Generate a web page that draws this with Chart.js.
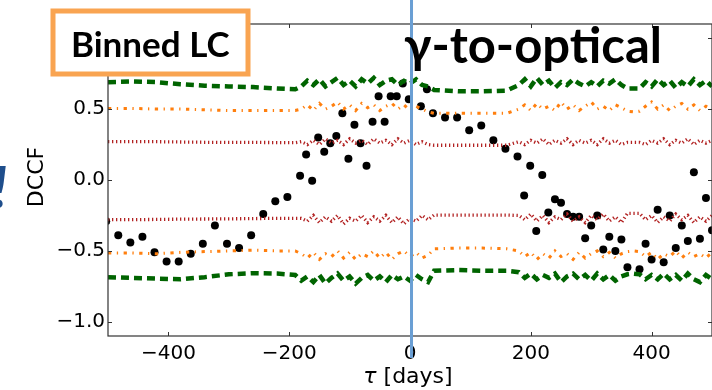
<!DOCTYPE html>
<html>
<head>
<meta charset="utf-8">
<style>
  html, body { margin: 0; padding: 0; background: #fff; }
  #wrap { position: relative; width: 712px; height: 390px; overflow: hidden; }
</style>
<script src="https://cdn.jsdelivr.net/npm/chart.js@4.4.1/dist/chart.umd.min.js"></script>
</head>
<body>
<div id="wrap"><canvas id="dccfChart" width="712" height="390"></canvas></div>
<script>
// ======== Data ========
const xTicks = [-400, -200, 0, 200, 400];
const yTicks = [-1.0, -0.5, 0.0, 0.5, 1.0];

// binned DCCF points (tau in days, DCCF value)
const dccfTau = [
  -503, -483, -463, -443, -423, -403, -383, -363, -343, -323, -303, -283, -263, -243, -223, -203,
  -182, -172, -162, -152, -142, -132, -122, -112, -102, -92, -82, -72, -62, -52, -42, -32, -22, -12, -2,
  18, 28, 38, 58, 78, 98, 118, 138, 158, 178,
  189, 199, 209, 219, 229, 240, 250, 260, 270, 280, 290, 300, 310, 320, 330, 340, 350, 360,
  380, 390, 400, 410, 420, 430, 440, 450, 460, 470, 480, 490, 500
];
const dccfVal = [
  -0.29, -0.39, -0.44, -0.40, -0.51, -0.575, -0.575, -0.52, -0.45, -0.32, -0.45, -0.48, -0.39, -0.24, -0.15, -0.12,
  0.03, 0.18, -0.005, 0.30, 0.20, 0.26, 0.31, 0.47, 0.15, 0.39, 0.26, 0.10, 0.41, 0.59, 0.41, 0.59, 0.59, 0.68, 0.57,
  0.52, 0.64, 0.47, 0.44, 0.44, 0.35, 0.385, 0.28, 0.22, 0.165,
  -0.11, 0.10, -0.36, 0.035, -0.23, -0.135, -0.16, -0.24, -0.26, -0.26, -0.41, -0.32, -0.25, -0.49, -0.40, -0.50, -0.42, -0.615,
  -0.63, -0.45, -0.56, -0.21, -0.58, -0.25, -0.48, -0.32, -0.43, 0.054, -0.415, -0.127, -0.354
];

// significance levels, all on one tau grid
const sigTau = [
  -500, -460, -420, -380, -340, -300, -260, -220, -190,
  -180, -170, -160, -150, -140, -130, -120, -110, -100, -90, -80, -70, -60, -50, -40, -30, -20, -10, 0, 10, 20, 30,
  40, 80, 120, 160,
  180, 190, 200, 210, 220, 230, 240, 250, 260, 270, 280, 290, 300, 310, 320, 330, 340, 350, 360, 370, 380,
  390, 400, 410, 420, 430, 440, 450, 460, 470, 480, 490, 500
];
const sig99Up = [
  0.69, 0.695, 0.69, 0.675, 0.665, 0.66, 0.655, 0.645, 0.64,
  0.66, 0.70, 0.67, 0.71, 0.66, 0.69, 0.72, 0.67, 0.70, 0.66, 0.71, 0.68, 0.72, 0.67, 0.70, 0.71, 0.67, 0.70, 0.68, 0.71, 0.67, 0.66,
  0.635, 0.625, 0.625, 0.63,
  0.67, 0.71, 0.66, 0.72, 0.67, 0.70, 0.65, 0.69, 0.67, 0.71, 0.68, 0.66, 0.69, 0.66, 0.70, 0.68, 0.71, 0.67, 0.645, 0.645, 0.645,
  0.69, 0.66, 0.71, 0.67, 0.70, 0.65, 0.69, 0.66, 0.71, 0.67, 0.70, 0.66
];
const sig99Low = [
  -0.685, -0.69, -0.695, -0.70, -0.685, -0.665, -0.657, -0.66, -0.67,
  -0.71, -0.68, -0.72, -0.67, -0.73, -0.69, -0.66, -0.71, -0.68, -0.73, -0.69, -0.67, -0.71, -0.68, -0.72, -0.67, -0.70, -0.68, -0.71, -0.67, -0.70, -0.72,
  -0.64, -0.635, -0.64, -0.64,
  -0.65, -0.69, -0.66, -0.70, -0.67, -0.69, -0.66, -0.72, -0.68, -0.66, -0.70, -0.67, -0.71, -0.66, -0.70, -0.67, -0.71, -0.68, -0.665, -0.66, -0.665,
  -0.70, -0.67, -0.70, -0.66, -0.70, -0.67, -0.71, -0.66, -0.70, -0.72, -0.67, -0.70
];
const sig95Up = [
  0.505, 0.505, 0.50, 0.50, 0.495, 0.49, 0.49, 0.49, 0.49,
  0.50, 0.53, 0.49, 0.54, 0.50, 0.52, 0.55, 0.50, 0.53, 0.49, 0.54, 0.51, 0.53, 0.49, 0.52, 0.54, 0.50, 0.53, 0.49, 0.52, 0.50, 0.48,
  0.47, 0.47, 0.47, 0.47,
  0.50, 0.53, 0.49, 0.54, 0.50, 0.52, 0.49, 0.55, 0.50, 0.53, 0.49, 0.52, 0.55, 0.50, 0.52, 0.49, 0.53, 0.51, 0.485, 0.48, 0.485,
  0.52, 0.55, 0.50, 0.53, 0.49, 0.52, 0.54, 0.50, 0.53, 0.49, 0.52, 0.50
];
const sig95Low = [
  -0.515, -0.515, -0.52, -0.51, -0.505, -0.50, -0.495, -0.50, -0.50,
  -0.52, -0.55, -0.51, -0.56, -0.52, -0.54, -0.50, -0.55, -0.51, -0.56, -0.52, -0.54, -0.50, -0.55, -0.51, -0.56, -0.52, -0.50, -0.54, -0.51, -0.55, -0.53,
  -0.485, -0.48, -0.48, -0.485,
  -0.50, -0.54, -0.51, -0.56, -0.52, -0.55, -0.50, -0.54, -0.52, -0.56, -0.51, -0.55, -0.52, -0.50, -0.54, -0.51, -0.55, -0.52, -0.505, -0.50, -0.505,
  -0.54, -0.51, -0.56, -0.52, -0.54, -0.50, -0.55, -0.51, -0.54, -0.52, -0.55, -0.51
];
const sig68Up = [
  0.27, 0.27, 0.27, 0.268, 0.266, 0.265, 0.265, 0.264, 0.263,
  0.27, 0.25, 0.28, 0.25, 0.29, 0.26, 0.28, 0.25, 0.29, 0.26, 0.28, 0.25, 0.29, 0.26, 0.28, 0.25, 0.29, 0.26, 0.28, 0.25, 0.27, 0.25,
  0.245, 0.245, 0.245, 0.245,
  0.27, 0.25, 0.28, 0.26, 0.29, 0.25, 0.28, 0.26, 0.29, 0.25, 0.28, 0.26, 0.28, 0.25, 0.29, 0.26, 0.28, 0.25, 0.265, 0.265, 0.265,
  0.25, 0.28, 0.26, 0.29, 0.25, 0.28, 0.26, 0.29, 0.25, 0.28, 0.26, 0.28
];
const sig68Low = [
  -0.28, -0.28, -0.278, -0.276, -0.275, -0.274, -0.272, -0.27, -0.27,
  -0.27, -0.29, -0.25, -0.30, -0.26, -0.29, -0.25, -0.31, -0.27, -0.29, -0.25, -0.30, -0.26, -0.29, -0.25, -0.30, -0.26, -0.31, -0.27, -0.29, -0.25, -0.28,
  -0.247, -0.247, -0.247, -0.247,
  -0.25, -0.28, -0.24, -0.29, -0.25, -0.30, -0.26, -0.28, -0.24, -0.29, -0.26, -0.30, -0.25, -0.28, -0.24, -0.29, -0.26, -0.30, -0.235, -0.235, -0.235,
  -0.28, -0.25, -0.30, -0.26, -0.29, -0.24, -0.28, -0.25, -0.30, -0.26, -0.29, -0.25
];

// zero-lag marker (blue vertical line)
const markerTau = 2.5;

// ======== Helpers ========
function toPoints(xs, ys) {
  return xs.map((x, i) => ({ x: x, y: ys[i] }));
}

function fmtMinus(v, digits) {
  const s = Math.abs(v).toFixed(digits);
  return v < 0 ? '\u2212' + s : s;
}

function sigLine(values, color, width, dash) {
  return {
    type: 'line',
    data: toPoints(sigTau, values),
    borderColor: color,
    borderWidth: width,
    borderDash: dash,
    borderCapStyle: 'butt',
    pointRadius: 0,
    tension: 0,
    fill: false
  };
}

// ======== Overlay: frame, ticks, annotations ========
const overlay = {
  id: 'overlay',
  afterDraw(chart) {
    const ctx = chart.ctx;
    const a = chart.chartArea;
    const xs = chart.scales.x;
    const ys = chart.scales.y;

    // frame
    ctx.save();
    ctx.strokeStyle = '#333';
    ctx.lineWidth = 1.2;
    ctx.strokeRect(a.left, a.top, a.right - a.left, a.bottom - a.top);

    // inward ticks on all four sides
    ctx.lineWidth = 1;
    ctx.beginPath();
    xTicks.forEach(t => {
      const px = Math.round(xs.getPixelForValue(t)) + 0.5;
      ctx.moveTo(px, a.bottom); ctx.lineTo(px, a.bottom - 4);
      ctx.moveTo(px, a.top); ctx.lineTo(px, a.top + 4);
    });
    yTicks.forEach(t => {
      const py = Math.round(ys.getPixelForValue(t)) + 0.5;
      ctx.moveTo(a.left, py); ctx.lineTo(a.left + 4, py);
      ctx.moveTo(a.right, py); ctx.lineTo(a.right - 4, py);
    });
    ctx.stroke();

    // axis titles
    ctx.fillStyle = '#000';
    ctx.save();
    ctx.translate(43, 177);
    ctx.rotate(-Math.PI / 2);
    ctx.font = '22px "DejaVu Sans"';
    ctx.textAlign = 'center';
    ctx.textBaseline = 'alphabetic';
    ctx.fillText('DCCF', 0, 0);
    ctx.restore();

    ctx.textBaseline = 'alphabetic';
    ctx.textAlign = 'left';
    ctx.font = 'italic 22px "DejaVu Sans"';
    const tauW = ctx.measureText('\u03c4').width;
    ctx.font = '22px "DejaVu Sans"';
    const restW = ctx.measureText(' [days]').width;
    const x0 = 408 - (tauW + restW) / 2;
    ctx.font = 'italic 22px "DejaVu Sans"';
    ctx.fillText('\u03c4', x0, 383);
    ctx.font = '22px "DejaVu Sans"';
    ctx.fillText(' [days]', x0 + tauW, 383);

    // zero-lag marker
    const mx = xs.getPixelForValue(markerTau);
    ctx.strokeStyle = '#6a9fd4';
    ctx.lineWidth = 3;
    ctx.beginPath();
    ctx.moveTo(mx, 0);
    ctx.lineTo(mx, 358);
    ctx.stroke();

    // "Binned LC" box
    ctx.fillStyle = '#fff';
    ctx.fillRect(53, 11, 195, 63);
    ctx.strokeStyle = '#f9a451';
    ctx.lineWidth = 5;
    ctx.strokeRect(53, 11, 195, 63);
    ctx.fillStyle = '#000';
    ctx.font = 'bold 35px Lato';
    ctx.fillText('Binned LC', 71, 57);

    // panel title
    ctx.font = 'bold 49px Lato';
    ctx.fillText('\u03b3-to-optical', 404, 63);

    // cut-off exclamation mark at the left edge
    ctx.fillStyle = '#1f4e8c';
    ctx.font = 'italic bold 58px Lato';
    ctx.fillText('!', -8, 208);
    ctx.restore();
  }
};

// ======== Chart ========
const ctxEl = document.getElementById('dccfChart').getContext('2d');

new Chart(ctxEl, {
  data: {
    datasets: [
      sigLine(sig68Up, '#b22222', 3.3, [1.3, 2.7]),
      sigLine(sig68Low, '#b22222', 3.3, [1.3, 2.7]),
      sigLine(sig95Up, '#ff7f0e', 3, [3.3, 5.5, 1.3, 5.5]),
      sigLine(sig95Low, '#ff7f0e', 3, [3.3, 5.5, 1.3, 5.5]),
      sigLine(sig99Up, '#006400', 4.5, [8, 5]),
      sigLine(sig99Low, '#006400', 4.5, [8, 5]),
      {
        type: 'scatter',
        data: toPoints(dccfTau, dccfVal),
        backgroundColor: '#000',
        borderColor: '#000',
        pointRadius: 4,
        borderWidth: 0
      }
    ]
  },
  options: {
    responsive: false,
    animation: false,
    devicePixelRatio: 1,
    layout: { padding: { top: 24, right: 0, left: 0, bottom: 0 }, autoPadding: false },
    plugins: { legend: { display: false }, tooltip: { enabled: false } },
    scales: {
      x: {
        type: 'linear',
        min: -500,
        max: 500,
        grid: { display: false, drawTicks: false },
        border: { display: false },
        afterBuildTicks: s => { s.ticks = xTicks.map(v => ({ value: v })); },
        afterFit: s => { s.height = 54; },
        ticks: {
          color: '#000',
          padding: 6,
          font: { family: 'DejaVu Sans', size: 20 },
          callback: v => fmtMinus(v, 0)
        }
      },
      y: {
        type: 'linear',
        min: -1.1,
        max: 1.1,
        grid: { display: false, drawTicks: false },
        border: { display: false },
        afterBuildTicks: s => { s.ticks = yTicks.map(v => ({ value: v })); },
        afterFit: s => { s.width = 108; },
        ticks: {
          color: '#000',
          padding: 3,
          font: { family: 'DejaVu Sans', size: 20 },
          callback: v => fmtMinus(v, 1)
        }
      }
    }
  },
  plugins: [overlay]
});
</script>
</body>
</html>
